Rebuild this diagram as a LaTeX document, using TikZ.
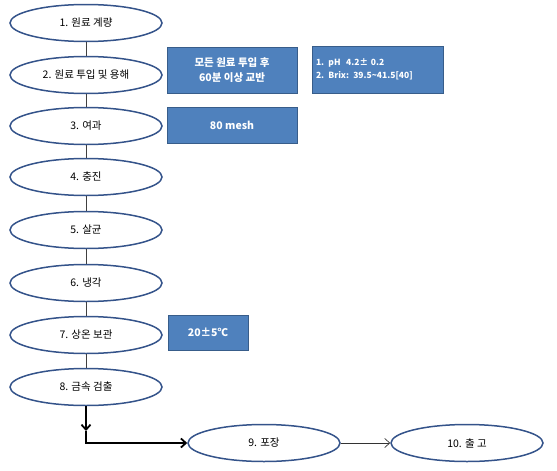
\documentclass[tikz,border=0pt]{standalone}
\usepackage{fontspec}
\setmainfont{Noto Sans CJK KR}
\usetikzlibrary{shapes.geometric,arrows.meta}
\definecolor{boxblue}{HTML}{4F81BD}
\definecolor{boxedge}{HTML}{385D8A}
\definecolor{ovaledge}{HTML}{34538A}
\tikzset{
  stepoval/.style={ellipse, draw=ovaledge, line width=1.5pt, fill=white,
    minimum width=152pt, minimum height=37pt, inner sep=0pt,
    font=\fontsize{10.5}{12}\selectfont},
  notebox/.style={rectangle, draw=boxedge, line width=1pt, fill=boxblue,
    text=white, inner sep=2pt, font=\fontsize{10.5}{15}\selectfont\bfseries},
  link/.style={draw=black!75, line width=0.7pt},
  flow/.style={draw=black, line width=1.8pt, -{Straight Barb[length=5pt,width=9pt]}},
  thinflow/.style={draw=black!80, line width=0.7pt, -{Straight Barb[length=5pt,width=9pt]}}
}
\begin{document}
\begin{tikzpicture}[x=1pt,y=-1pt]
                \useasboundingbox (0,0) rectangle (557,471);

                % process steps
                \node[stepoval] (s1) at (86,23)  {1. 원료 계량};
                \node[stepoval] (s2) at (86,75)  {2. 원료 투입 및 용해};
                \node[stepoval] (s3) at (86,126) {3. 여과};
                \node[stepoval] (s4) at (86,177) {4. 충진};
                \node[stepoval] (s5) at (86,230) {5. 살균};
                \node[stepoval] (s6) at (86,283) {6. 냉각};
                \node[stepoval] (s7) at (86,335) {7. 상온 보관};
                \node[stepoval] (s8) at (86,387) {8. 금속 검출};
                \node[stepoval] (s9) at (264,443) {9. 포장};
                \node[stepoval] (s10) at (467,443) {10. 출 고};

                % notes
                \node[notebox, minimum width=130pt, minimum height=46pt, align=center] (n1) at (232,70)
                    {모든 원료 투입 후\\60분 이상 교반};
                \node[notebox, text width=123pt, inner xsep=4pt, minimum height=47pt, align=left,
                      font=\fontsize{8.5}{13}\selectfont\bfseries] (n2) at (377.5,69.5)
                    {1. pH\ \ 4.2± 0.2\\2. Brix: 39.5\textasciitilde41.5[40]};
                \node[notebox, minimum width=130pt, minimum height=36pt] (n3) at (232,125) {80 mesh};
                \node[notebox, minimum width=80pt, minimum height=35pt] (n4) at (208,332.5) {20±5℃};

                % connectors
                \draw[link] (s1) -- (s2);
                \draw[link] (s2) -- (s3);
                \draw[link] (s3) -- (s4);
                \draw[link] (s4) -- (s5);
                \draw[link] (s5) -- (s6);
                \draw[link] (s6) -- (s7);
                \draw[link] (s7) -- (s8);

                \coordinate (half) at (s8.south |- 0,431);
                \coordinate (bend) at (s8.south |- s9.west);
                \draw[flow] (s8.south) -- (half);
                \draw[flow] (half) -- (bend) -- (s9.west);
                \draw[thinflow] (s9) -- (s10);
            \end{tikzpicture}
\end{document}
